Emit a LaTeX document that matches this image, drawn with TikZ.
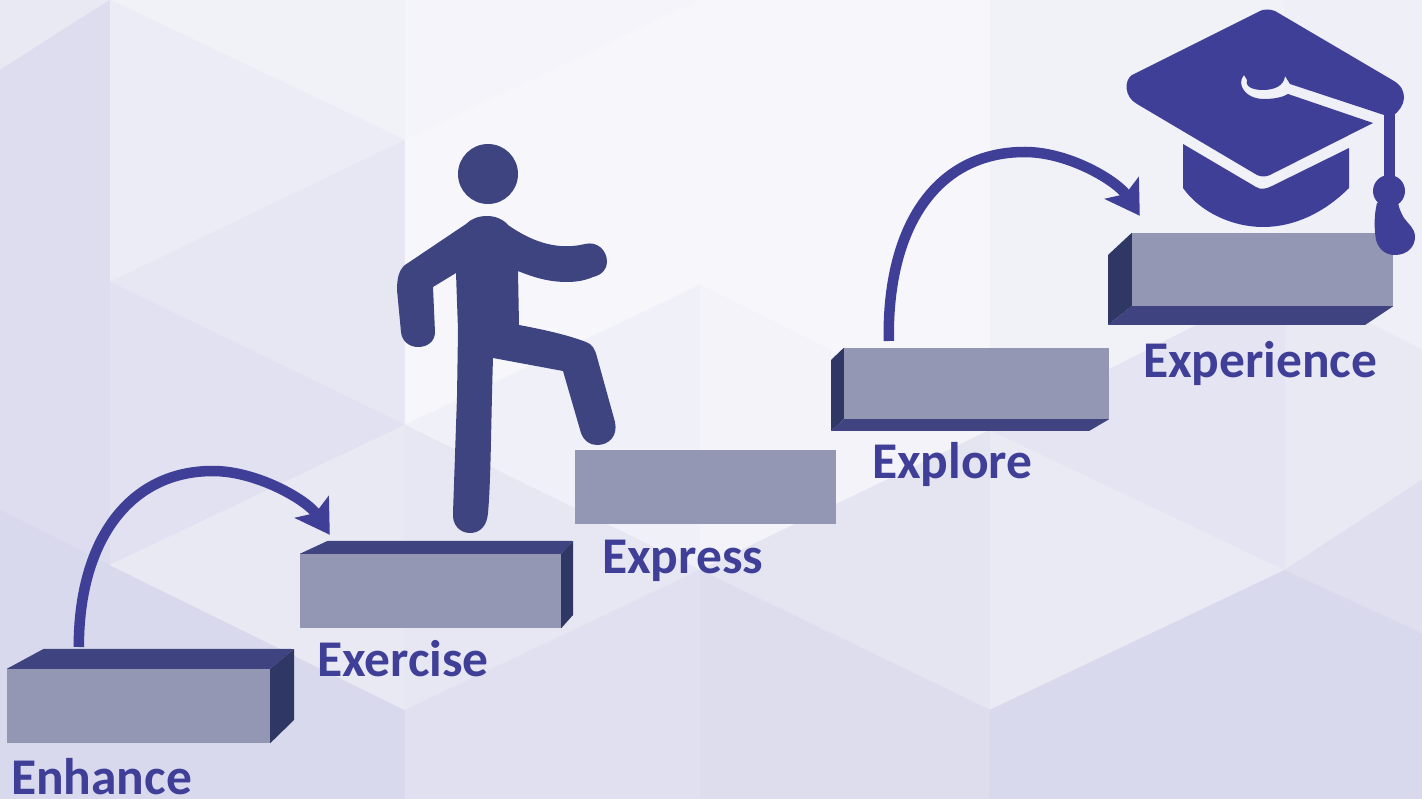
\documentclass[tikz,border=0pt]{standalone}
\usepackage{fontspec}
\setmainfont{Carlito}
\usetikzlibrary{arrows.meta, positioning}
\definecolor{StepFront}{RGB}{148, 151, 179}
\definecolor{StepTop}{RGB}{63, 68, 128}
\definecolor{StepSide}{RGB}{47, 56, 100}
\definecolor{CapBlue}{RGB}{64, 63, 152}
\definecolor{WalkerBlue}{RGB}{62, 68, 128}
\definecolor{BackLow}{RGB}{216, 216, 236}

\begin{document}
\begin{tikzpicture}[
    x=1pt, y=-1pt,
    stepbox/.style={rectangle, draw=none, fill=StepFront, inner sep=0pt, minimum width=262pt, minimum height=74pt},
    steplabel/.style={anchor=base west, inner sep=0pt, text=CapBlue, font=\fontsize{51.5}{51.5}\selectfont\bfseries},
    topface/.style={fill=StepTop},
    sideface/.style={fill=StepSide},
    hop/.style={-{Stealth[length=33pt, width=40pt, inset=7pt]}, draw=CapBlue, line width=10.5pt},
    facet/.style={fill=white!#1!BackLow, draw=white!#1!BackLow, line width=0.3pt}
  ]
    \useasboundingbox (0,0) rectangle (1422,799);
    \clip (0,0) rectangle (1422,799);

    % Background
    \fill[facet=44] (0,0) -- (110,0) -- (0,70) -- cycle;
    \fill[facet=14] (0,70) -- (110,0) -- (110,565) -- (0,510) -- cycle;
    \fill[facet=3] (0,510) -- (110,565) -- (405,710) -- (405,799) -- (0,799) -- cycle;
    \fill[facet=65] (110,0) -- (405,0) -- (405,140) -- cycle;
    \fill[facet=52] (110,0) -- (405,140) -- (110,282) -- cycle;
    \fill[facet=38] (110,282) -- (405,140) -- (405,425) -- cycle;
    \fill[facet=24] (110,282) -- (405,425) -- (110,565) -- cycle;
    \fill[facet=44] (110,565) -- (405,425) -- (405,710) -- cycle;
    \fill[facet=72] (405,0) -- (700,0) -- (405,140) -- cycle;
    \fill[facet=79] (405,140) -- (700,0) -- (990,0) -- (990,430) -- (700,285) -- (405,425) -- cycle;
    \fill[facet=62] (405,425) -- (700,285) -- (700,570) -- cycle;
    \fill[facet=38] (405,425) -- (700,570) -- (405,710) -- cycle;
    \fill[facet=20] (405,710) -- (700,570) -- (700,799) -- (405,799) -- cycle;
    \fill[facet=70] (700,285) -- (990,430) -- (700,570) -- cycle;
    \fill[facet=33] (700,570) -- (990,430) -- (990,710) -- cycle;
    \fill[facet=12] (700,570) -- (990,710) -- (990,799) -- (700,799) -- cycle;
    \fill[facet=46] (990,430) -- (1285,570) -- (990,710) -- cycle;
    \fill[facet=3] (990,710) -- (1285,570) -- (1422,480) -- (1422,799) -- (990,799) -- cycle;
    \fill[facet=65] (990,0) -- (1285,0) -- (1285,280) -- (990,430) -- cycle;
    \fill[facet=30] (990,430) -- (1285,280) -- (1285,570) -- cycle;
    \fill[facet=60] (1285,0) -- (1422,0) -- (1422,350) -- (1285,280) -- cycle;
    \fill[facet=44] (1285,280) -- (1422,350) -- (1422,480) -- (1285,570) -- cycle;
    \fill[facet=18] (1285,570) -- (1422,480) -- (1422,633) -- cycle;

    % Steps
    \node[stepbox, minimum width=263pt] (enhance) at (138.5,706) {};
    \node[stepbox, minimum width=261pt] (exercise) at (430.5,591) {};
    \node[stepbox, minimum width=261pt] (express) at (705.5,487) {};
    \node[stepbox, minimum width=265pt, minimum height=71pt] (explore) at (976.5,383.5) {};
    \node[stepbox, minimum width=261pt, minimum height=73pt] (experience) at (1262.5,269.5) {};

    \fill[topface] (enhance.north west) -- +(37,-20) -- (294,649) -- (enhance.north east) -- cycle;
    \fill[sideface] (enhance.north east) -- (294,649) -- (294,720) -- (enhance.south east) -- cycle;
    \fill[topface] (exercise.north west) -- +(28,-13) -- (573,541) -- (exercise.north east) -- cycle;
    \fill[sideface] (exercise.north east) -- (573,541) -- (573,615) -- (exercise.south east) -- cycle;
    \fill[sideface] (explore.north west) -- (831,360) -- (831,431) -- (explore.south west) -- cycle;
    \fill[topface] (explore.south west) -- (831,431) -- (1089,431) -- (explore.south east) -- cycle;
    \fill[sideface] (experience.north west) -- (1108,255) -- (1108,325) -- (experience.south west) -- cycle;
    \fill[topface] (experience.south west) -- (1108,325) -- (1365,325) -- (experience.south east) -- cycle;

    % Labels
    \node[steplabel] (enhancetext) at ([shift={(4,51)}]enhance.south west) {Enhance};
    \node[steplabel] (exercisetext) at ([shift={(17,48)}]exercise.south west) {Exercise};
    \node[steplabel] (expresstext) at ([shift={(27,49)}]express.south west) {Express};
    \node[steplabel] (exploretext) at ([shift={(28,59)}]explore.south west) {Explore};
    \node[steplabel] (experiencetext) at ([shift={(11,71)}]experience.south west) {Experience};

    % Hops
    \coordinate (hopastart) at ([xshift=72pt]enhance.north west |- 0,647);
    \coordinate (hopaend) at ([xshift=30pt,yshift=19pt]exercise.north west);
    \coordinate (hopbstart) at ([xshift=45pt]explore.north west |- 0,341);
    \coordinate (hopbend) at ([xshift=8pt,yshift=17pt]experience.north west);
    \draw[hop] (hopastart) .. controls +(0,-107) and +(-83,0) .. +(134,-176) .. controls +(45,0) and +(-22,-34) .. (hopaend);
    \draw[hop] (hopbstart) .. controls +(-2,-115) and +(-88,0) .. +(136,-189) .. controls +(45,0) and +(-22,-34) .. (hopbend);

    % Walker
    \fill[WalkerBlue] (488,174) circle (30);
    \fill[WalkerBlue] (487,216) .. controls (478,216) and (471,219) .. (466,224) -- (405,265)
      .. controls (399,270) and (397,278) .. (397,290) -- (401,332)
      .. controls (402,342) and (410,347) .. (418,347) .. controls (428,347) and (435,341) .. (435,332)
      -- (433,287) -- (456,273) -- (458,330) -- (457,397) -- (453,513)
      .. controls (452,525) and (460,533) .. (470,533) .. controls (480,533) and (487,526) .. (488,513)
      .. controls (491,480) and (491,420) .. (493,358) -- (563,371) -- (581,433)
      .. controls (584,441) and (590,445) .. (597,445) .. controls (609,445) and (618,436) .. (615,422)
      -- (597,357) .. controls (595,349) and (592,344) .. (586,342) .. controls (565,334) and (540,329) .. (519,325)
      -- (518,271) .. controls (535,278) and (550,282) .. (567,282) .. controls (578,282) and (586,280) .. (593,277)
      .. controls (602,275) and (607,269) .. (607,262) .. controls (607,250) and (597,241) .. (585,244)
      .. controls (560,250) and (535,244) .. (508,225) .. controls (503,219) and (495,216) .. (487,216) -- cycle;

    % Cap
    \fill[CapBlue] (1132,75) -- (1260,11) .. controls (1264,9) and (1270,9) .. (1275,11) -- (1394,81)
      .. controls (1402,86) and (1404,92) .. (1404,98) .. controls (1404,105) and (1398,112) .. (1394,115)
      -- (1384,115) -- (1290,84) -- (1285,76) .. controls (1284,86) and (1274,90) .. (1263,90)
      .. controls (1253,90) and (1245,87) .. (1247,80) -- (1244,75) .. controls (1236,84) and (1245,99) .. (1264,99)
      .. controls (1275,99) and (1283,97) .. (1288,94) -- (1373,123) -- (1270,175)
      .. controls (1266,177) and (1261,177) .. (1257,175) -- (1137,104) .. controls (1124,97) and (1124,80) .. (1132,75) -- cycle;
    \fill[CapBlue] (1183,144) -- (1183,188) .. controls (1200,212) and (1232,227) .. (1263,227)
      .. controls (1295,227) and (1325,212) .. (1349,188) -- (1349,148) -- (1272,186)
      .. controls (1266,189) and (1261,190) .. (1256,187) -- cycle;
    \fill[CapBlue] (1384,112) rectangle (1395,180);
    \fill[CapBlue] (1389,191) circle (16);
    \fill[CapBlue] (1377,203) .. controls (1374,215) and (1374,228) .. (1376,240) .. controls (1379,250) and (1386,255) .. (1395,255)
      .. controls (1408,255) and (1415,246) .. (1415,237) .. controls (1415,228) and (1408,224) .. (1404,218) .. controls (1401,213) and (1399,208) .. (1398,203) -- cycle;
\end{tikzpicture}
\end{document}
